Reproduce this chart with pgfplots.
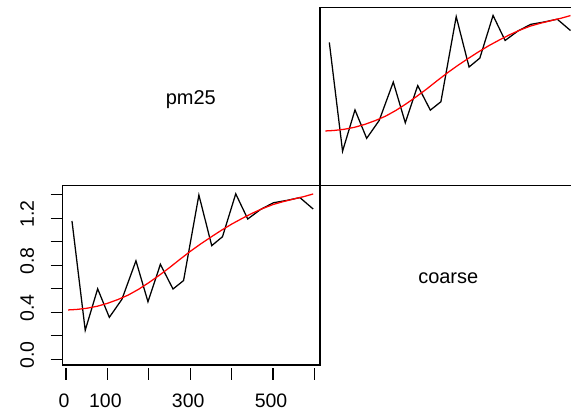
\documentclass[border=0pt]{standalone}
\usepackage{fontspec}
\setmainfont{Liberation Sans}
\usepackage{pgfplots}
\usepackage{pgfplotstable}
\pgfplotsset{compat=1.18}
\pgfplotstableread{
x y
14.5 1.177
46.5 0.247
76.5 0.600
104.7 0.357
135 0.510
169 0.838
198 0.490
228 0.808
258.5 0.598
284 0.670
321 1.398
352 0.967
378 1.043
410 1.408
439 1.194
470 1.275
501 1.332
533 1.352
565 1.376
597 1.279
}\empirical
\pgfplotstableread{
x y
5 0.420
25 0.424
50 0.434
75 0.451
100 0.476
125 0.508
150 0.546
175 0.595
200 0.652
225 0.714
250 0.780
275 0.850
300 0.918
325 0.981
350 1.040
375 1.097
400 1.150
425 1.198
450 1.243
475 1.283
500 1.317
525 1.342
550 1.364
575 1.385
597 1.407
}\model
\begin{document}
\begin{tikzpicture}
\useasboundingbox (0,0) rectangle (428.25pt,313.5pt);
\pgfplotsset{panel/.style={scale only axis, width=193pt,
  xmin=-8, xmax=613.5, ymin=-0.0485, ymax=1.4775,
  axis line style={line width=1pt, black}, clip=true}}
\begin{axis}[panel, height=134.5pt, at={(47pt,39.75pt)}, anchor=south west,
  xtick={0,100,200,300,400,500,600}, xticklabels={0,100,,300,,500,},
  ytick={0,0.2,0.4,0.6,0.8,1.0,1.2,1.4}, yticklabels={0.0,,0.4,,0.8,,1.2,},
  xtick pos=lower, ytick pos=left,
  tick align=outside, major tick length=9pt,
  tick style={line width=0.9pt, black},
  xtick style={yshift=-2pt},
  ticklabel style={font=\fontsize{14.6}{17}\selectfont},
  xticklabel shift=9.5pt, yticklabel shift=9pt,
  xticklabel style={xshift=-1.5pt},
  yticklabel style={yshift=3.3pt, rotate=90, anchor=south},
]
\addplot[black, line width=0.95pt] table[x=x,y=y]{\empirical};
\addplot[red, line width=0.95pt] table[x=x,y=y]{\model};
\end{axis}
\begin{axis}[panel, height=133.8pt, at={(240pt,174.2pt)}, anchor=south west,
  xtick=\empty, ytick=\empty]
\addplot[black, line width=0.95pt] table[x=x,y=y]{\empirical};
\addplot[red, line width=0.95pt] table[x=x,y=y]{\model};
\end{axis}
\node[anchor=base, inner sep=0pt, font=\fontsize{15}{18}\selectfont] at (143.1pt,234.75pt) {pm25};
\node[anchor=base, inner sep=0pt, font=\fontsize{15}{18}\selectfont] at (336.2pt,101pt) {coarse};
\end{tikzpicture}
\end{document}
